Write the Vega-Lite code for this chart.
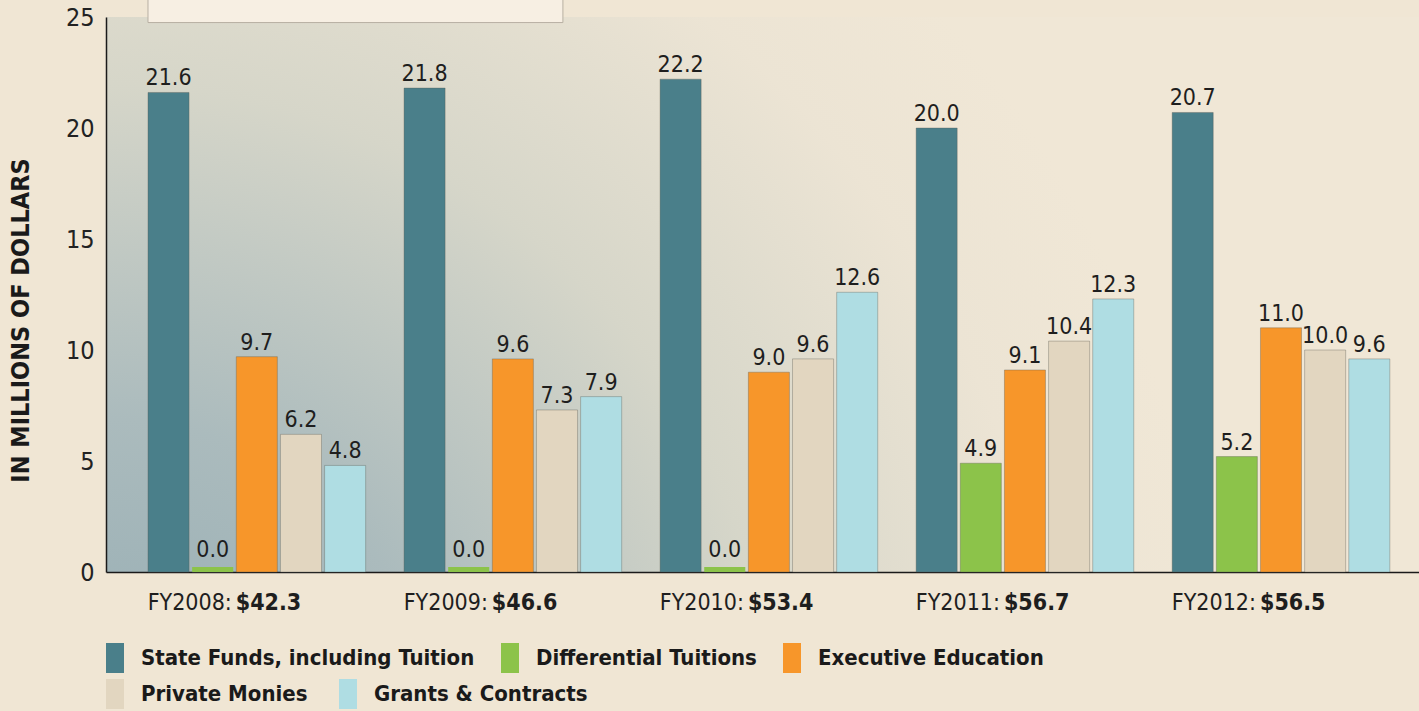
{
  "$schema": "https://vega.github.io/schema/vega-lite/v6.json",
  "width": 1313,
  "height": 555,
  "autosize": {"type": "none"},
  "padding": {"left": 106, "top": 17, "right": 0, "bottom": 139},
  "background": "#f0e6d4",
  "config": {
    "view": {
      "stroke": null,
      "fill": {
        "gradient": "radial",
        "x1": 0.0, "y1": 0.85, "r1": 0,
        "x2": 0.0, "y2": 0.85, "r2": 0.85,
        "stops": [
          {"offset": 0, "color": "#93abb2"},
          {"offset": 0.3, "color": "#abbbbd"},
          {"offset": 0.6, "color": "#d6d6c9"},
          {"offset": 0.85, "color": "#ece4d4"},
          {"offset": 1, "color": "#f0e7d6"}
        ]
      }
    },
    "legend": {
      "title": null,
      "orient": "none",
      "direction": "horizontal",
      "symbolType": "M-0.6,-1H0.6V1H-0.6Z",
      "symbolSize": 900,
      "symbolStrokeWidth": 0,
      "symbolOpacity": 1,
      "labelFont": "DejaVu Sans Condensed, Liberation Sans Narrow, sans-serif",
      "labelFontWeight": "bold",
      "labelFontSize": 22,
      "labelColor": "#1a1a1a",
      "labelOffset": 11,
      "labelLimit": 500,
      "padding": 0
    },
    "font": "Liberation Sans Narrow, DejaVu Sans Condensed, Liberation Sans, sans-serif"
  },
  "datasets": {
    "funds": [
      {"year": "FY2008", "category": "State Funds, including Tuition", "value": 21.6},
      {"year": "FY2008", "category": "Differential Tuitions", "value": 0.0},
      {"year": "FY2008", "category": "Executive Education", "value": 9.7},
      {"year": "FY2008", "category": "Private Monies", "value": 6.2},
      {"year": "FY2008", "category": "Grants & Contracts", "value": 4.8},
      {"year": "FY2009", "category": "State Funds, including Tuition", "value": 21.8},
      {"year": "FY2009", "category": "Differential Tuitions", "value": 0.0},
      {"year": "FY2009", "category": "Executive Education", "value": 9.6},
      {"year": "FY2009", "category": "Private Monies", "value": 7.3},
      {"year": "FY2009", "category": "Grants & Contracts", "value": 7.9},
      {"year": "FY2010", "category": "State Funds, including Tuition", "value": 22.2},
      {"year": "FY2010", "category": "Differential Tuitions", "value": 0.0},
      {"year": "FY2010", "category": "Executive Education", "value": 9.0},
      {"year": "FY2010", "category": "Private Monies", "value": 9.6},
      {"year": "FY2010", "category": "Grants & Contracts", "value": 12.6},
      {"year": "FY2011", "category": "State Funds, including Tuition", "value": 20.0},
      {"year": "FY2011", "category": "Differential Tuitions", "value": 4.9},
      {"year": "FY2011", "category": "Executive Education", "value": 9.1},
      {"year": "FY2011", "category": "Private Monies", "value": 10.4},
      {"year": "FY2011", "category": "Grants & Contracts", "value": 12.3},
      {"year": "FY2012", "category": "State Funds, including Tuition", "value": 20.7},
      {"year": "FY2012", "category": "Differential Tuitions", "value": 5.2},
      {"year": "FY2012", "category": "Executive Education", "value": 11.0},
      {"year": "FY2012", "category": "Private Monies", "value": 10.0},
      {"year": "FY2012", "category": "Grants & Contracts", "value": 9.6}
    ],
    "totals": [
      {"year": "FY2008", "label": "FY2008:", "total": 42.3},
      {"year": "FY2009", "label": "FY2009:", "total": 46.6},
      {"year": "FY2010", "label": "FY2010:", "total": 53.4},
      {"year": "FY2011", "label": "FY2011:", "total": 56.7},
      {"year": "FY2012", "label": "FY2012:", "total": 56.5}
    ]
  },
  "encoding": {
    "x": {
      "field": "year",
      "type": "nominal",
      "sort": ["FY2008", "FY2009", "FY2010", "FY2011", "FY2012"],
      "scale": {"paddingInner": 0.15, "paddingOuter": 0.139, "align": 0.59},
      "axis": {
        "title": null,
        "labels": false,
        "ticks": false,
        "domainColor": "#1a1a1a",
        "domainWidth": 1.5
      }
    },
    "xOffset": {
      "field": "category",
      "type": "nominal",
      "scale": {
        "domain": ["State Funds, including Tuition", "Differential Tuitions", "Executive Education", "Private Monies", "Grants & Contracts"],
        "paddingInner": 0.07,
        "paddingOuter": 0
      }
    }
  },
  "layer": [
    {
      "data": {"name": "funds"},
      "transform": [{"filter": "datum.category == 'State Funds, including Tuition' || datum.category == 'Differential Tuitions' || datum.category == 'Executive Education'"}],
      "mark": {"type": "bar", "stroke": "#5a5a50", "strokeOpacity": 0.35, "strokeWidth": 1},
      "encoding": {
        "y": {
          "field": "value",
          "type": "quantitative",
          "stack": null,
          "title": "IN MILLIONS OF DOLLARS",
          "scale": {"domain": [0, 25], "nice": false},
          "axis": {
            "values": [0, 5, 10, 15, 20, 25],
            "grid": false,
            "ticks": false,
            "domainColor": "#1a1a1a",
            "domainWidth": 1.5,
            "labelFontSize": 25,
            "labelColor": "#222222",
            "labelPadding": 12,
            "labelFont": "Liberation Sans Narrow, DejaVu Sans Condensed, Liberation Sans, sans-serif",
            "titleFont": "DejaVu Sans Condensed, Liberation Sans Narrow, sans-serif",
            "titleFontSize": 25,
            "titleFontWeight": "bold",
            "titleColor": "#1a1a1a",
            "titlePadding": 32,
            "titleY": 303
          }
        },
        "color": {
          "field": "category",
          "type": "nominal",
          "scale": {
            "domain": ["State Funds, including Tuition", "Differential Tuitions", "Executive Education"],
            "range": ["#4a7f8a", "#8cc34a", "#f7962a"]
          },
          "legend": {
            "legendX": -6,
            "legendY": 626,
            "columnPadding": 20
          }
        }
      }
    },
    {
      "data": {"name": "funds"},
      "transform": [{"filter": "datum.category == 'Private Monies' || datum.category == 'Grants & Contracts'"}],
      "mark": {"type": "bar", "stroke": "#5a5a50", "strokeOpacity": 0.35, "strokeWidth": 1},
      "encoding": {
        "y": {"field": "value", "type": "quantitative", "stack": null, "title": "IN MILLIONS OF DOLLARS"},
        "fill": {
          "field": "category",
          "type": "nominal",
          "scale": {
            "domain": ["Private Monies", "Grants & Contracts"],
            "range": ["#e2d6c0", "#afdde3"]
          },
          "legend": {
            "legendX": -6,
            "legendY": 662,
            "columnPadding": 25
          }
        }
      }
    },
    {
      "data": {"name": "funds"},
      "transform": [{"filter": "datum.value == 0"}],
      "mark": {"type": "bar", "yOffset": -5, "color": "#8cc34a"},
      "encoding": {
        "y": {"field": "value", "type": "quantitative", "stack": null, "title": "IN MILLIONS OF DOLLARS"},
        "y2": {"datum": 0}
      }
    },
    {
      "data": {"name": "funds"},
      "transform": [{"filter": "datum.value > 0"}],
      "mark": {"type": "text", "fontSize": 23, "color": "#1e1e1e", "baseline": "alphabetic", "dy": -7},
      "encoding": {
        "y": {"field": "value", "type": "quantitative", "title": "IN MILLIONS OF DOLLARS"},
        "text": {"field": "value", "type": "quantitative", "format": ".1f"}
      }
    },
    {
      "data": {"name": "funds"},
      "transform": [{"filter": "datum.value == 0"}],
      "mark": {"type": "text", "fontSize": 23, "color": "#1e1e1e", "baseline": "alphabetic", "dy": -15},
      "encoding": {
        "y": {"field": "value", "type": "quantitative", "title": "IN MILLIONS OF DOLLARS"},
        "text": {"field": "value", "type": "quantitative", "format": ".1f"}
      }
    },
    {
      "data": {"name": "totals"},
      "mark": {"type": "text", "fontSize": 23, "color": "#1e1e1e", "align": "right", "baseline": "middle", "dx": -25, "dy": 31},
      "encoding": {
        "xOffset": null,
        "y": {"datum": 0, "type": "quantitative", "title": "IN MILLIONS OF DOLLARS"},
        "text": {"field": "label", "type": "nominal"}
      }
    },
    {
      "data": {"name": "totals"},
      "mark": {"type": "text", "fontSize": 23, "fontWeight": "bold", "color": "#1e1e1e", "align": "left", "baseline": "middle", "dx": -21, "dy": 31},
      "encoding": {
        "xOffset": null,
        "y": {"datum": 0, "type": "quantitative", "title": "IN MILLIONS OF DOLLARS"},
        "text": {"field": "total", "type": "quantitative", "format": "$.1f"}
      }
    },
    {
      "data": {"values": [{}]},
      "mark": {"type": "rect", "fill": "#f7efe3", "stroke": "#b8b0a3", "strokeWidth": 1},
      "encoding": {
        "x": {"datum": "FY2008", "bandPosition": 0},
        "x2": {"datum": "FY2009", "bandPosition": 0.73},
        "xOffset": null,
        "y": {"datum": 24.75, "type": "quantitative", "title": "IN MILLIONS OF DOLLARS"},
        "y2": {"datum": 26}
      }
    }
  ]
}
